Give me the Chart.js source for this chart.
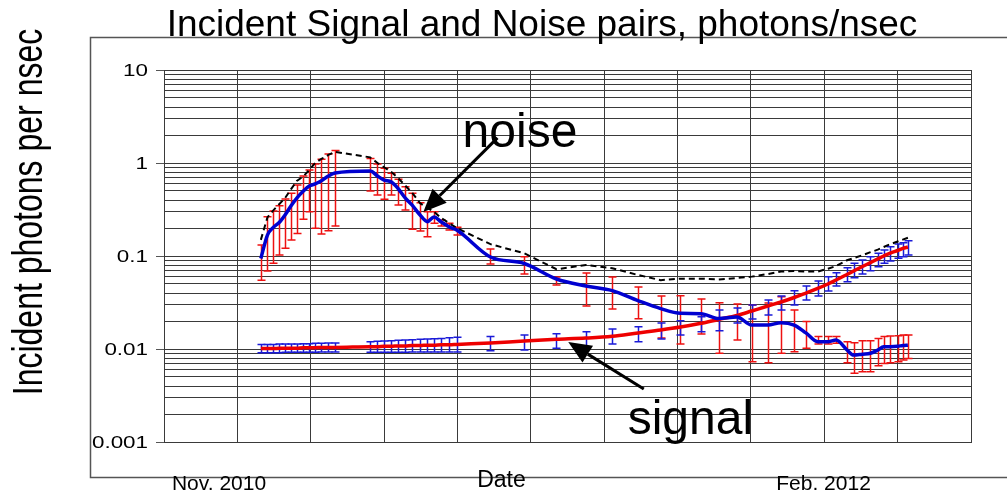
<!DOCTYPE html>
<html>
<head>
<meta charset="utf-8">
<title>Incident Signal and Noise pairs</title>
<script src="https://cdn.jsdelivr.net/npm/chart.js@4.4.0/dist/chart.umd.min.js"></script>
<style>
	body { margin: 0; background: #fff; }
	canvas { display: block; }
</style>
</head>
<body>
<canvas id="mycanvas" width="1007" height="495"></canvas>
<script>
// date of each measurement, in grid units (one unit per vertical grid line)
var dates = [
	1.32, 1.41, 1.49, 1.57, 1.65, 1.73, 1.81, 1.90, 1.98, 2.06, 2.14, 2.24, 2.33,
	2.81, 2.91, 3.00, 3.10, 3.19, 3.29, 3.38, 3.49, 3.59, 3.68, 3.78, 3.89, 3.99,
	4.45, 4.91, 5.35, 5.75, 6.11, 6.46, 6.77, 7.04, 7.32, 7.56, 7.81, 8.01, 8.23, 8.41,
	8.59, 8.75, 8.91, 9.05, 9.16, 9.31, 9.40, 9.52, 9.63, 9.73, 9.81, 9.90, 10.00, 10.07, 10.14
];

// noise, photons/nsec (blue line, red error bars)
var noise = [
	0.094, 0.168, 0.203, 0.229, 0.276, 0.345, 0.42, 0.50, 0.566, 0.595, 0.64, 0.725, 0.78,
	0.82, 0.725, 0.656, 0.625, 0.532, 0.42, 0.354, 0.276, 0.234, 0.263, 0.232, 0.205, 0.19,
	0.0975, 0.083, 0.0566, 0.0476, 0.0425, 0.0332, 0.0272, 0.0242, 0.024, 0.0213, 0.0221, 0.0181, 0.0181, 0.0192,
	0.0181, 0.0149, 0.012, 0.012, 0.0125, 0.00975, 0.0086, 0.0088, 0.009, 0.00975, 0.0106, 0.0106, 0.0107, 0.0109, 0.011
];
var noiseLo = [
	0.055, 0.069, 0.0835, 0.1025, 0.121, 0.149, 0.175, 0.248, 0.30, 0.199, 0.172, 0.187, 0.21,
	0.5, 0.453, 0.407, 0.453, 0.353, 0.313, 0.194, 0.186, 0.161, 0.225, 0.21, 0.19, 0.168,
	0.082, 0.064, 0.0488, 0.029, 0.0269, 0.0212, 0.0131, 0.0113, 0.0145, 0.009, 0.0125, 0.0073, 0.0071, 0.009,
	0.00935, 0.0102, 0.0113, 0.0113, 0.0115, 0.0071, 0.0055, 0.0057, 0.0057, 0.0066, 0.007, 0.0071, 0.0073, 0.0076, 0.0079
];
var noiseHi = [
	0.131, 0.265, 0.305, 0.348, 0.41, 0.472, 0.58, 0.725, 0.84, 0.976, 1.10, 1.25, 1.36,
	1.12, 0.976, 0.877, 0.775, 0.668, 0.556, 0.472, 0.374, 0.30, 0.30, 0.244, 0.225, 0.204,
	0.119, 0.098, 0.0594, 0.0656, 0.0594, 0.0464, 0.0371, 0.0374, 0.0345, 0.0315, 0.0305, 0.0297, 0.0312, 0.0365,
	0.0263, 0.0197, 0.0136, 0.0136, 0.0136, 0.012, 0.0117, 0.0123, 0.0123, 0.013, 0.0136, 0.0138, 0.0139, 0.0141, 0.0141
];

// signal, photons/nsec (red line, blue error bars)
var signal = [
	0.0101, 0.0101, 0.0101, 0.0102, 0.0102, 0.0102, 0.0102, 0.0103, 0.0103, 0.0103, 0.0104, 0.0104, 0.0104,
	0.0106, 0.0106, 0.0107, 0.0107, 0.0108, 0.0108, 0.0109, 0.0109, 0.011, 0.011, 0.0111, 0.0111, 0.0112,
	0.0116, 0.0122, 0.0127, 0.0131, 0.0137, 0.0149, 0.016, 0.0172, 0.0189, 0.0208, 0.0229, 0.0256, 0.029, 0.032,
	0.0358, 0.04, 0.0448, 0.05, 0.0552, 0.0632, 0.069, 0.077, 0.085, 0.093, 0.1, 0.1077, 0.1146, 0.1205, 0.125
];
var signalLo = [
	0.0091, 0.0091, 0.0091, 0.0091, 0.0092, 0.0092, 0.0092, 0.0092, 0.0092, 0.0092, 0.0093, 0.0093, 0.0093,
	0.0092, 0.0092, 0.0092, 0.0092, 0.0092, 0.0092, 0.0093, 0.0093, 0.0093, 0.0093, 0.0093, 0.0093, 0.0093,
	0.0096, 0.00975, 0.0102, 0.0106, 0.0113, 0.012, 0.0128, 0.0141, 0.0153, 0.0157, 0.019, 0.021, 0.0232, 0.0263,
	0.0297, 0.0336, 0.0371, 0.042, 0.0476, 0.053, 0.0585, 0.064, 0.0695, 0.0767, 0.0835, 0.0883, 0.0944, 0.098, 0.1025
];
var signalHi = [
	0.0112, 0.0112, 0.0112, 0.0113, 0.0113, 0.0113, 0.0113, 0.0114, 0.0114, 0.0115, 0.0115, 0.0116, 0.0116,
	0.0120, 0.0121, 0.0122, 0.0123, 0.0124, 0.0125, 0.0126, 0.0127, 0.0128, 0.0129, 0.0130, 0.0132, 0.0134,
	0.0136, 0.0141, 0.0146, 0.0153, 0.0164, 0.0174, 0.019, 0.0201, 0.0222, 0.0263, 0.0276, 0.0297, 0.0336, 0.0371,
	0.0424, 0.0476, 0.0538, 0.0599, 0.066, 0.0748, 0.0835, 0.0906, 0.098, 0.107, 0.116, 0.126, 0.1346, 0.139, 0.146
];

// upper noise envelope (black dashed line)
var noiseMax = [
	0.149, 0.26, 0.31, 0.36, 0.42, 0.52, 0.64, 0.72, 0.84, 1.0, 1.1, 1.22, 1.32,
	1.15, 1.0, 0.9, 0.8, 0.69, 0.57, 0.48, 0.37, 0.33, 0.30, 0.255, 0.225, 0.2,
	0.134, 0.107, 0.072, 0.08, 0.074, 0.0625, 0.055, 0.057, 0.057, 0.056, 0.058, 0.06, 0.064, 0.068,
	0.069, 0.068, 0.068, 0.073, 0.078, 0.09, 0.095, 0.102, 0.11, 0.117, 0.125, 0.134, 0.143, 0.15, 0.157
];

var yTicks = [10, 1, 0.1, 0.01, 0.001];
var yTickText = ['10', '1', '0.1', '0.01', '0.001'];
var dateLabels = ['Nov. 2010', 'Feb. 2012'];
var dateLabelAt = [0.75, 8.99];

var FONT = '"Liberation Sans", Arial, sans-serif';

function pts(xs, ys) {
	var out = [];
	for (var i in xs) out.push({x: xs[i], y: ys[i]});
	return out;
}

function errorBars(chart, lo, hi, color) {
	var ctx = chart.ctx, xa = chart.scales.x, ya = chart.scales.y;
	ctx.save();
	ctx.strokeStyle = color;
	ctx.lineWidth = 1.5;
	for (var i = 0; i < dates.length; i++) {
		var px = Math.round(xa.getPixelForValue(dates[i])) + 0.5;
		var y1 = ya.getPixelForValue(lo[i]), y2 = ya.getPixelForValue(hi[i]);
		ctx.beginPath();
		ctx.moveTo(px, y1); ctx.lineTo(px, y2);
		ctx.moveTo(px - 4, y1); ctx.lineTo(px + 4, y1);
		ctx.moveTo(px - 4, y2); ctx.lineTo(px + 4, y2);
		ctx.stroke();
	}
	ctx.restore();
}

function arrow(ctx, x1, y1, x2, y2) {
	var a = Math.atan2(y2 - y1, x2 - x1), len = 23, w = 10;
	var bx = x2 - len * Math.cos(a), by = y2 - len * Math.sin(a);
	ctx.beginPath();
	ctx.moveTo(x1, y1); ctx.lineTo(bx, by);
	ctx.stroke();
	ctx.beginPath();
	ctx.moveTo(x2, y2);
	ctx.lineTo(bx + w * Math.sin(a), by - w * Math.cos(a));
	ctx.lineTo(bx - w * Math.sin(a), by + w * Math.cos(a));
	ctx.closePath();
	ctx.fill();
}

var decor = {
	id: 'decor',
	beforeDraw: function(chart) {
		var ctx = chart.ctx;
		ctx.save();
		ctx.fillStyle = '#fff';
		ctx.fillRect(0, 0, chart.width, chart.height);
		ctx.strokeStyle = '#555';
		ctx.lineWidth = 1.5;
		ctx.strokeRect(90.5, 37.5, 1000, 440);
		ctx.restore();
	},
	beforeDatasetsDraw: function(chart) {
		errorBars(chart, noiseLo, noiseHi, '#ee1111');
		errorBars(chart, signalLo, signalHi, '#1a1ad8');
	},
	afterDraw: function(chart) {
		var ctx = chart.ctx, xa = chart.scales.x, ya = chart.scales.y, area = chart.chartArea;
		ctx.save();
		ctx.fillStyle = '#000';

		// title
		ctx.font = '37px ' + FONT;
		ctx.textAlign = 'center';
		ctx.textBaseline = 'alphabetic';
		ctx.fillText('Incident Signal and Noise pairs, photons/nsec', 542, 36);

		// y axis title (wide glyphs, as in the original)
		ctx.save();
		ctx.translate(42, 212);
		ctx.rotate(-Math.PI / 2);
		ctx.scale(1, 1.35);
		ctx.font = '32px ' + FONT;
		ctx.fillText('Incident photons per nsec', 0, 0);
		ctx.restore();

		// y tick marks and labels
		ctx.strokeStyle = '#555';
		ctx.lineWidth = 1;
		for (var i in yTicks) {
			var y = Math.round(ya.getPixelForValue(yTicks[i])) + 0.5;
			ctx.beginPath();
			ctx.moveTo(area.left - 8, y); ctx.lineTo(area.left, y);
			ctx.stroke();
			ctx.save();
			ctx.translate(148, y);
			ctx.scale(1.4, 1);
			ctx.font = '16px ' + FONT;
			ctx.textAlign = 'right';
			ctx.textBaseline = 'middle';
			ctx.fillText(yTickText[i], 0, 1);
			ctx.restore();
		}

		// x labels
		ctx.textAlign = 'center';
		ctx.textBaseline = 'alphabetic';
		ctx.font = '21px ' + FONT;
		for (var j in dateLabels) {
			ctx.fillText(dateLabels[j], xa.getPixelForValue(dateLabelAt[j]), 490);
		}
		ctx.font = '23px ' + FONT;
		ctx.fillText('Date', xa.getPixelForValue(4.6), 487);

		// annotations
		ctx.textAlign = 'left';
		ctx.font = '48px ' + FONT;
		ctx.fillText('noise', xa.getPixelForValue(4.07), ya.getPixelForValue(1.49));
		ctx.fillText('signal', xa.getPixelForValue(6.32), ya.getPixelForValue(0.00122));
		ctx.strokeStyle = '#000';
		ctx.lineWidth = 3;
		arrow(ctx, xa.getPixelForValue(4.545), ya.getPixelForValue(1.86), xa.getPixelForValue(3.535), ya.getPixelForValue(0.297));
		arrow(ctx, xa.getPixelForValue(6.54), ya.getPixelForValue(0.00371), xa.getPixelForValue(5.51), ya.getPixelForValue(0.0119));
		ctx.restore();
	}
};

var gridColor = '#3a3a3a';

var chartdata = {
	datasets: [
		{
			label: 'noise',
			data: pts(dates, noise),
			borderColor: '#0000d0',
			borderWidth: 3.5,
			pointRadius: 0,
			cubicInterpolationMode: 'monotone'
		},
		{
			label: 'signal',
			data: pts(dates, signal),
			borderColor: '#ee0000',
			borderWidth: 3.5,
			pointRadius: 0,
			cubicInterpolationMode: 'monotone'
		},
		{
			label: 'noise max',
			data: pts(dates, noiseMax),
			borderColor: '#000',
			borderWidth: 2,
			borderDash: [6, 4],
			pointRadius: 0,
			tension: 0
		}
	]
};

var ctx = document.getElementById('mycanvas');

var chart = new Chart(ctx, {
	type: 'line',
	data: chartdata,
	options: {
		responsive: false,
		animation: false,
		devicePixelRatio: 1,
		layout: { padding: { left: 164, right: 36, top: 70, bottom: 53 } },
		plugins: { legend: { display: false }, tooltip: { enabled: false } },
		scales: {
			x: {
				type: 'linear', min: 0, max: 11,
				ticks: { display: false, stepSize: 1 },
				grid: { color: gridColor, drawTicks: false },
				border: { color: gridColor },
				afterFit: function(s) { s.height = 0; }
			},
			y: {
				type: 'logarithmic', min: 0.001, max: 10,
				ticks: { display: false, autoSkip: false },
				grid: { color: gridColor, drawTicks: false },
				border: { color: gridColor },
				afterBuildTicks: function(s) {
					var t = [];
					for (var e = -3; e < 1; e++) {
						for (var k = 1; k < 10; k++) t.push({ value: k * Math.pow(10, e) });
					}
					t.push({ value: 10 });
					s.ticks = t;
				},
				afterFit: function(s) { s.width = 0; }
			}
		}
	},
	plugins: [decor]
});
</script>
</body>
</html>
